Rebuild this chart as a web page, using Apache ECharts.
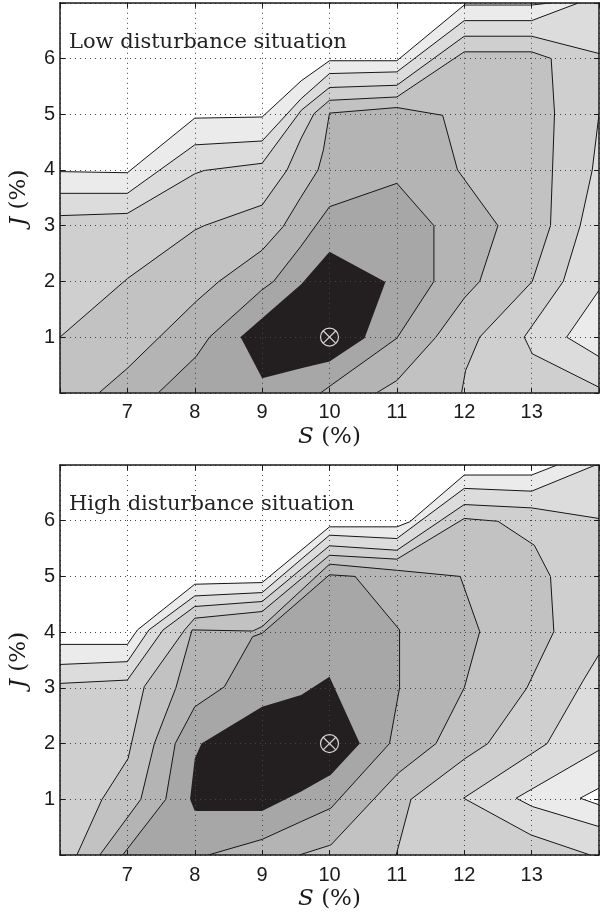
<!DOCTYPE html>
<html>
<head>
<meta charset="utf-8">
<script src="https://cdn.jsdelivr.net/npm/echarts@6/dist/echarts.min.js"></script>
<style>
html,body{margin:0;padding:0;background:#fff}
#chart{width:602px;height:915px}
</style>
</head>
<body>
<div id="chart"></div>
<script>
// axes
var xMin=6, xMax=14, yMin=0, yMax=7;
var xTicks=[7,8,9,10,11,12,13];
var yTicks=[1,2,3,4,5,6];
var titles=['Low disturbance situation','High disturbance situation'];
var optimum=[[10,1],[10,2]];

// low disturbance: contour lines, outermost level first
var lowA=[[6,3.97],[7,3.95],[8,4.93],[9,4.95],[9.58,5.6],[10,5.96],[11,5.96],[12,6.96],[13,6.96],[13.3,7]];
var lowB1=[[6,3.58],[7,3.58],[8,4.45],[9,4.52],[9.58,5.28],[10,5.73],[11,5.76],[12,6.68],[13,6.68],[13.7,7]];
var lowB2=[[14,1.84],[13.52,1],[14,0.65]];
var lowC1=[[6,3.18],[7,3.22],[8,3.93],[8.14,3.99],[9,4.12],[9.58,5.07],[10,5.48],[11,5.52],[12,6.4],[13,6.4],[14,6.09]];
var lowC2=[[14,5],[13.9,4],[13.72,3],[13.47,2],[12.89,1],[13.01,0.7],[14,0.1]];
var lowD=[[6,1],[7,2.05],[8,2.92],[8.14,3],[9,3.37],[9.37,4],[9.58,4.57],[9.77,5.01],[10,5.25],[11,5.31],[12,6.12],[13,6.12],[13.29,6],[13.34,5.02],[13.31,4],[13.28,3],[13.01,2],[12.23,1],[12.02,0.4],[11.96,0]];
var lowE=[[6.58,0],[7,0.44],[8.02,1.64],[8.36,2],[9,2.56],[9.31,2.98],[9.57,3.5],[9.83,4],[9.91,4.36],[10,5.02],[11,5.12],[11.68,4.98],[11.9,4],[12.5,3],[12.23,2],[12,1.7],[11.58,1],[11,0.22],[10.7,0]];
var lowF=[[7.46,0],[8.02,0.65],[8.22,1],[8.99,1.84],[9.17,2],[9.57,2.62],[10,3.34],[11,3.76],[11.55,3],[11.55,2],[11,0.98],[10.04,0.15],[9.87,0]];
var lowG=[[8.68,1],[9,0.26],[9.58,0.44],[10,0.56],[10.52,0.98],[10.83,1.99],[10,2.53],[9.58,1.95]];

// high disturbance
var highA1=[[6,3.78],[7,3.78],[7.15,4.04],[8,4.86],[9,4.89],[10,5.89],[11,5.89],[11.19,5.98],[12,6.82],[13,6.82],[13.38,7]];
var highA2=[[14,1.2],[13.72,1.02],[14,0.9]];
var highB1=[[6,3.42],[7,3.47],[7.32,4.04],[8,4.65],[9,4.71],[10,5.74],[11,5.68],[12,6.58],[13,6.53],[13.95,7]];
var highB2=[[14,1.88],[12.77,1.02],[13.01,0.87],[14,0.51]];
var highC1=[[6,3.08],[7,3.14],[7.53,4.04],[8,4.46],[9,4.55],[10,5.55],[11,5.47],[12,6.29],[13,6.23],[14,6.04]];
var highC2=[[14,3.6],[13.77,3.14],[13.23,2],[11.99,1.02],[12.99,0.36],[13.87,0]];
var highD=[[6.25,0],[6.62,0.99],[7.01,1.73],[7.25,3.02],[7.32,3.14],[7.85,4.04],[8,4.25],[9,4.37],[10,5.38],[11,5.31],[12,6.04],[12.5,5.99],[13.04,5.56],[13.28,5],[13.33,4.01],[12.93,3],[12.35,2],[12.01,1.73],[11.21,1],[10.99,0]];
var highE=[[6.59,0],[7.2,1],[7.4,2],[7.72,3],[7.96,4.04],[8.86,4.02],[9,4.1],[10,5.22],[11,5.11],[11.94,5],[12.23,4.01],[12,3],[11.58,2],[11.02,1.47],[10.02,0.18],[9.55,0]];
var highF=[[6.93,0],[7.57,1],[7.71,2],[8,2.66],[8.44,3.02],[8.86,3.92],[9,3.98],[10,5.03],[10.38,5],[11.04,4.04],[11.04,3],[10.89,2],[10.02,0.84],[9.58,0.6],[9,0.28],[8.2,0]];
var highG=[[8.1,2],[8,1.73],[7.93,1],[8,0.79],[9,0.79],[9.58,1.14],[10.02,1.44],[10.45,2],[10,3.2],[9.58,2.87],[9,2.66]];

var bandColors=['#ebebeb','#dcdcdc','#cfcfcf','#c2c2c2','#b4b4b4','#a7a7a7','#231f20'];

// corners of the plot box, used to close the filled regions
var TR=[xMax,yMax], BR=[xMax,yMin], BL=[xMin,yMin];

var plots=[
  {
    regions:[
      lowA.concat([TR,BR,BL]),
      lowB1.concat([TR],lowB2,[BR,BL]),
      lowC1.concat(lowC2,[BR,BL]),
      lowD.concat([BL]),
      lowE, lowF, lowG
    ],
    lines:[lowA,lowB1,lowB2,lowC1,lowC2,lowD,lowE,lowF]
  },
  {
    regions:[
      highA1.concat([TR],highA2,[BR,BL]),
      highB1.concat([TR],highB2,[BR,BL]),
      highC1.concat(highC2,[BL]),
      highD, highE, highF, highG
    ],
    lines:[highA1,highA2,highB1,highB2,highC1,highC2,highD,highE,highF]
  }
];

var chart=echarts.init(document.getElementById('chart'),null,{renderer:'canvas'});

var axisColor='#1a1a1a';
var nameStyle={fontFamily:'DejaVu Serif',fontSize:23,color:axisColor,
  rich:{i:{fontFamily:'DejaVu Serif',fontStyle:'italic',fontSize:23,color:axisColor}}};
var dots={show:true,lineStyle:{type:[1,4],color:'#444',width:1}};
var frame={show:true,onZero:false,lineStyle:{color:axisColor,width:1.5}};
var tick={show:true,inside:true,length:5,lineStyle:{color:axisColor}};

var grids=[],xAxes=[],yAxes=[],series=[],graphic=[];
var tops=[2.8,465];

plots.forEach(function(p,k){
  grids.push({left:56,top:tops[k],width:547.6,height:390});
  xAxes.push({
    gridIndex:k,type:'value',min:xMin,max:xMax,interval:1,position:'bottom',z:5,
    axisLine:frame,axisTick:tick,splitLine:dots,
    axisLabel:{margin:10,fontFamily:'Liberation Sans',fontSize:20,color:axisColor,
      formatter:function(v){return xTicks.indexOf(v)>=0?String(v):'';}},
    name:'{i|S} (%)',nameLocation:'middle',nameGap:33,nameTextStyle:nameStyle
  });
  xAxes.push({gridIndex:k,type:'value',min:xMin,max:xMax,interval:1,position:'top',z:5,
    axisLine:frame,axisTick:tick,axisLabel:{show:false},splitLine:{show:false}});
  yAxes.push({
    gridIndex:k,type:'value',min:yMin,max:yMax,interval:1,position:'left',z:5,
    axisLine:frame,axisTick:tick,splitLine:dots,
    axisLabel:{margin:5,fontFamily:'Liberation Sans',fontSize:20,color:axisColor,
      formatter:function(v){return yTicks.indexOf(v)>=0?String(v):'';}},
    name:'{i|J} (%)',nameLocation:'middle',nameGap:29,nameTextStyle:nameStyle
  });
  yAxes.push({gridIndex:k,type:'value',min:yMin,max:yMax,interval:1,position:'right',z:5,
    axisLine:frame,axisTick:tick,axisLabel:{show:false},splitLine:{show:false}});

  var xi=k*2, yi=k*2;
  // filled bands
  series.push({
    type:'custom',xAxisIndex:xi,yAxisIndex:yi,z:2,silent:true,clip:true,
    data:p.regions.map(function(r,i){return [xMin,yMin,i];}),
    renderItem:function(params,api){
      var r=p.regions[params.dataIndex];
      return {type:'polygon',shape:{points:r.map(function(pt){return api.coord(pt);})},
        style:{fill:bandColors[params.dataIndex],stroke:null}};
    }
  });
  // contour lines
  series.push({
    type:'custom',xAxisIndex:xi,yAxisIndex:yi,z:3,silent:true,clip:true,
    data:p.lines.map(function(r,i){return [xMin,yMin,i];}),
    renderItem:function(params,api){
      var r=p.lines[params.dataIndex];
      return {type:'polyline',shape:{points:r.map(function(pt){return api.coord(pt);})},
        style:{fill:null,stroke:'#161616',lineWidth:1}};
    }
  });
  // optimum marker
  series.push({
    type:'custom',xAxisIndex:xi,yAxisIndex:yi,z:6,silent:true,
    data:[optimum[k]],
    renderItem:function(params,api){
      var c=api.coord([api.value(0),api.value(1)]);
      var r=9, d=r*0.7071;
      var st={stroke:'#d6d6d6',lineWidth:1.2,fill:null};
      return {type:'group',children:[
        {type:'circle',shape:{cx:c[0],cy:c[1],r:r},style:st},
        {type:'line',shape:{x1:c[0]-d,y1:c[1]-d,x2:c[0]+d,y2:c[1]+d},style:st},
        {type:'line',shape:{x1:c[0]-d,y1:c[1]+d,x2:c[0]+d,y2:c[1]-d},style:st}
      ]};
    }
  });
  graphic.push({type:'text',left:69,top:tops[k]+29,z:10,
    style:{text:titles[k],font:'21px "DejaVu Serif"',fill:'#222'}});
});

chart.setOption({
  animation:false,
  backgroundColor:'#fff',
  grid:grids,
  xAxis:xAxes,
  yAxis:yAxes,
  series:series,
  graphic:graphic
});
</script>
</body>
</html>
